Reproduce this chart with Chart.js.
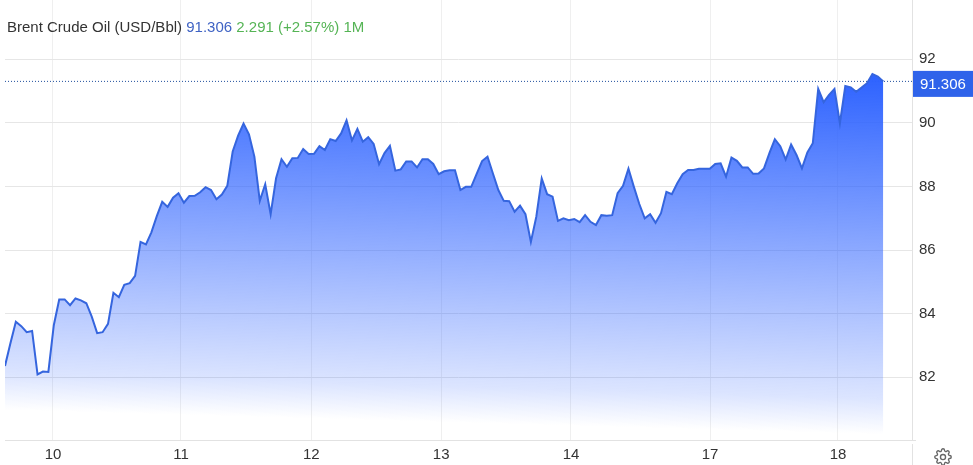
<!DOCTYPE html>
<html>
<head>
<meta charset="utf-8">
<script src="https://cdn.jsdelivr.net/npm/chart.js@4"></script>
<style>
html,body{margin:0;padding:0;background:#fff;overflow:hidden}
#wrap{position:relative;width:973px;height:465px}
#header{position:absolute;left:7px;top:18px;font:15px "Liberation Sans",Arial,sans-serif;color:#333;white-space:pre;z-index:2;line-height:17px}
#header .p{color:#3f63c4}#header .c{color:#55b455}
#gear{position:absolute;left:934px;top:448px;z-index:2}
</style>
</head>
<body>
<div id="wrap">
<canvas id="c" width="973" height="465" style="display:block;width:973px;height:465px"></canvas>
<div id="header">Brent Crude Oil (USD/Bbl) <span class="p">91.306</span> <span class="c">2.291 (+2.57%) 1M</span></div>
<svg id="gear" width="18" height="18" viewBox="0 0 24 24" fill="none" stroke="#666" stroke-width="1.8"><circle cx="12" cy="12" r="3.4"/><path d="M19.4 15a1.65 1.65 0 0 0 .33 1.82l.06.06a2 2 0 0 1 0 2.83 2 2 0 0 1-2.83 0l-.06-.06a1.65 1.65 0 0 0-1.82-.33 1.65 1.65 0 0 0-1 1.51V21a2 2 0 0 1-2 2 2 2 0 0 1-2-2v-.09A1.65 1.65 0 0 0 9 19.4a1.65 1.65 0 0 0-1.82.33l-.06.06a2 2 0 0 1-2.83 0 2 2 0 0 1 0-2.83l.06-.06a1.65 1.65 0 0 0 .33-1.82 1.65 1.65 0 0 0-1.51-1H3a2 2 0 0 1-2-2 2 2 0 0 1 2-2h.09A1.65 1.65 0 0 0 4.6 9a1.65 1.65 0 0 0-.33-1.82l-.06-.06a2 2 0 0 1 0-2.83 2 2 0 0 1 2.83 0l.06.06a1.65 1.65 0 0 0 1.82.33H9a1.65 1.65 0 0 0 1-1.51V3a2 2 0 0 1 2-2 2 2 0 0 1 2 2v.09a1.65 1.65 0 0 0 1 1.51 1.65 1.65 0 0 0 1.82-.33l.06-.06a2 2 0 0 1 2.83 0 2 2 0 0 1 0 2.83l-.06.06a1.65 1.65 0 0 0-.33 1.82V9a1.65 1.65 0 0 0 1.51 1H21a2 2 0 0 1 2 2 2 2 0 0 1-2 2h-.09a1.65 1.65 0 0 0-1.51 1z"/></svg>
</div>
<script>
const prices = [
82.36,83.07,83.75,83.61,83.42,83.46,82.09,82.18,82.17,83.64,
84.45,84.45,84.27,84.48,84.42,84.33,83.91,83.39,83.42,83.68,
84.66,84.52,84.91,84.96,85.19,86.26,86.18,86.56,87.07,87.52,
87.36,87.65,87.79,87.49,87.70,87.71,87.82,87.98,87.89,87.60,
87.75,88.02,89.10,89.60,89.98,89.64,88.94,87.55,88.07,87.13,
88.26,88.86,88.62,88.89,88.90,89.18,89.02,89.03,89.27,89.15,
89.49,89.43,89.67,90.08,89.45,89.81,89.41,89.55,89.34,88.70,
89.05,89.28,88.50,88.54,88.79,88.79,88.60,88.86,88.86,88.71,
88.39,88.48,88.51,88.51,87.89,87.99,87.99,88.40,88.80,88.94,
88.41,87.89,87.55,87.54,87.21,87.40,87.13,86.26,87.05,88.25,
87.76,87.68,86.92,87.00,86.94,86.98,86.88,87.10,86.89,86.79,
87.10,87.08,87.10,87.79,88.02,88.56,87.99,87.45,87.00,87.13,
86.86,87.16,87.83,87.76,88.10,88.39,88.52,88.52,88.56,88.56,
88.56,88.71,88.73,88.31,88.91,88.81,88.60,88.60,88.40,88.41,
88.57,89.05,89.49,89.27,88.85,89.32,88.99,88.57,89.07,89.36,
91.07,90.65,90.88,91.07,89.99,91.16,91.12,90.98,91.11,91.25,
91.54,91.46,91.306];
const lastPrice = 91.306;
const lastLabel = "91.306";
const dayLabels = ["10","11","12","13","14","17","18"];
const dayStarts = [8.85,32.46,56.5,80.45,104.4,130.05,153.65];
const yTickValues = [82,84,86,88,90,92];
const X_MAX = 167.3, Y_MIN = 80.03, Y_MAX = 93.865;
const FONT = '"Liberation Sans",Arial,sans-serif';

const pricePoints = prices.map((v,i)=>({x:i,y:v}));
const lastLine = [{x:0,y:lastPrice},{x:X_MAX,y:lastPrice}];

const overlay = {
  id:'overlay',
  afterDraw(chart){
    const {ctx,scales:{x,y}} = chart;
    const py = y.getPixelForValue(lastPrice);
    ctx.save();
    ctx.fillStyle='#2f63ea';
    ctx.fillRect(x.right+1,py-10.5,chart.width-x.right-1,26);
    ctx.fillStyle='#fff';
    ctx.font='15px '+FONT;
    ctx.textBaseline='middle';
    ctx.textAlign='left';
    ctx.fillText(lastLabel,x.right+8,py+3);
    ctx.strokeStyle='#e2e2e2';
    ctx.lineWidth=1;
    ctx.beginPath();
    ctx.moveTo(x.right+.5,y.bottom+4);
    ctx.lineTo(x.right+.5,chart.height);
    ctx.moveTo(x.right,y.bottom+.5);
    ctx.lineTo(x.right+4,y.bottom+.5);
    ctx.stroke();
    ctx.restore();
  }
};

new Chart(document.getElementById('c'),{
  type:'line',
  data:{datasets:[
    {data:pricePoints,borderColor:'#3565de',borderWidth:2,pointRadius:0,tension:0,fill:'origin',
     backgroundColor(ctx){
       const a=ctx.chart.chartArea;
       if(!a) return 'rgba(45,98,255,.5)';
       const g=ctx.chart.ctx.createLinearGradient(880,75,870,434);
       g.addColorStop(0,'rgba(45,98,255,1)');
       g.addColorStop(0.9,'rgba(45,98,255,0.17)');
       g.addColorStop(1,'rgba(45,98,255,0)');
       return g;
     }},
    {data:lastLine,borderColor:'#1f4f9e',borderWidth:1,borderDash:[1,2],pointRadius:0,fill:false,tension:0}
  ]},
  options:{
    responsive:false,animation:false,devicePixelRatio:1,
    layout:{padding:{left:5,top:0,right:0,bottom:0}},
    plugins:{legend:{display:false},title:{display:false},tooltip:{enabled:false}},
    scales:{
      x:{type:'linear',min:0,max:X_MAX,
        afterBuildTicks(s){s.ticks=dayStarts.map(value=>({value}));},
        afterFit(s){s.height=25;s.paddingLeft=0;s.paddingRight=0;},
        grid:{color:'#efefef',drawTicks:false},
        border:{color:'#e2e2e2'},
        ticks:{autoSkip:false,maxRotation:0,padding:6,color:'#333',font:{family:FONT,size:15},
          callback(v){const i=dayStarts.indexOf(v);return i<0?'':dayLabels[i];}}
      },
      y:{position:'right',min:Y_MIN,max:Y_MAX,
        afterBuildTicks(s){s.ticks=yTickValues.map(value=>({value}));},
        afterFit(s){s.width=61;s.paddingTop=0;s.paddingBottom=0;},
        grid:{color:'#e6e6e6',drawTicks:false},
        border:{color:'#e2e2e2'},
        ticks:{padding:7,color:'#333',font:{family:FONT,size:15}}
      }
    }
  },
  plugins:[overlay]
});
</script>
</body>
</html>
